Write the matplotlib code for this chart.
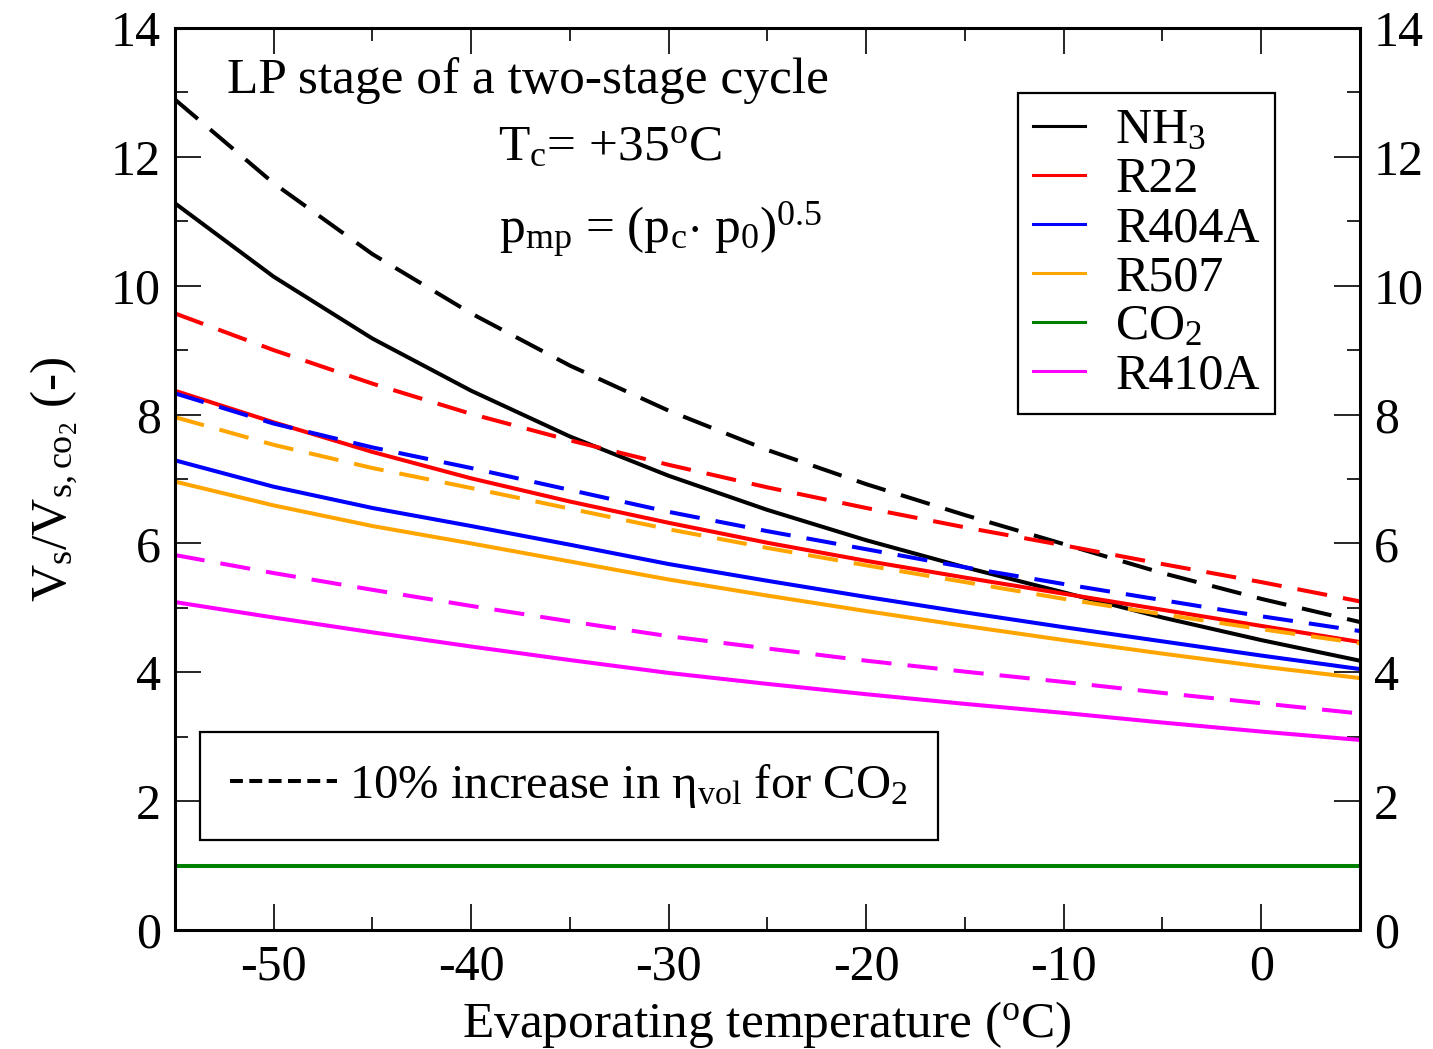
import matplotlib
matplotlib.use('Agg')
from matplotlib import pyplot as plt
from matplotlib.lines import Line2D
from matplotlib.ticker import MultipleLocator

plt.rcParams['font.family'] = ['Liberation Serif', 'DejaVu Serif']
plt.rcParams['mathtext.fontset'] = 'custom'
plt.rcParams['mathtext.rm'] = 'Liberation Serif'
plt.rcParams['mathtext.it'] = 'Liberation Serif'
plt.rcParams['axes.unicode_minus'] = False

# evaporating temperature (oC)
t_evap = [-55, -50, -45, -40, -35, -30, -25, -20, -15, -10, -5, 0, 5]

# swept volume ratio, solid lines
nh3 = [11.28, 10.14, 9.18, 8.37, 7.66, 7.05, 6.52, 6.05, 5.63, 5.24, 4.85, 4.50, 4.18]
r22 = [8.37, 7.88, 7.42, 7.01, 6.65, 6.32, 6.01, 5.73, 5.47, 5.22, 4.97, 4.72, 4.47]
r404a = [7.29, 6.88, 6.55, 6.27, 5.98, 5.68, 5.42, 5.17, 4.93, 4.70, 4.48, 4.26, 4.05]
r507 = [6.96, 6.59, 6.27, 6.00, 5.72, 5.44, 5.19, 4.95, 4.72, 4.50, 4.29, 4.09, 3.91]
co2 = [1.0] * 13
r410a = [5.09, 4.85, 4.62, 4.40, 4.19, 3.99, 3.82, 3.66, 3.51, 3.37, 3.22, 3.08, 2.95]

# 10% increase in volumetric efficiency for CO2, dashed lines
nh3_d = [12.89, 11.59, 10.49, 9.57, 8.76, 8.06, 7.45, 6.92, 6.44, 5.99, 5.54, 5.14, 4.78]
r22_d = [9.57, 9.00, 8.48, 8.01, 7.60, 7.22, 6.87, 6.55, 6.25, 5.97, 5.68, 5.40, 5.10]
r404a_d = [8.33, 7.86, 7.49, 7.17, 6.83, 6.49, 6.19, 5.91, 5.63, 5.37, 5.12, 4.87, 4.64]
r507_d = [7.96, 7.53, 7.17, 6.86, 6.54, 6.22, 5.93, 5.66, 5.40, 5.14, 4.90, 4.67, 4.45]
r410a_d = [5.82, 5.54, 5.28, 5.03, 4.79, 4.56, 4.37, 4.18, 4.01, 3.85, 3.68, 3.52, 3.36]

labels = ['NH$_3$', 'R22', 'R404A', 'R507', 'CO$_2$', 'R410A']
colors = ['black', 'red', 'blue', 'orange', 'green', 'magenta']
solid = [nh3, r22, r404a, r507, co2, r410a]
dashed = [nh3_d, r22_d, r404a_d, r507_d, None, r410a_d]

fig = plt.figure(figsize=(14.33, 10.49), dpi=100)
ax = fig.add_axes([0.122, 0.1134, 0.827, 0.86])

lines = []
for y, yd, c, lab in zip(solid, dashed, colors, labels):
    ln, = ax.plot(t_evap, y, color=c, lw=2.9, label=lab)
    lines.append(ln)
    if yd is not None:
        ld, = ax.plot(t_evap, yd, color=c, lw=2.9)
        ld.set_dashes((7.5, 4))

ax.set_xlim(-55, 5)
ax.set_ylim(0, 14)
ax.xaxis.set_major_locator(MultipleLocator(10))
ax.xaxis.set_minor_locator(MultipleLocator(5))
ax.yaxis.set_major_locator(MultipleLocator(2))
ax.yaxis.set_minor_locator(MultipleLocator(1))
ax.tick_params(which='both', direction='in', top=True, right=True,
               labelright=True, width=1.2, labelsize=36)
ax.tick_params(which='major', length=19, pad=10)
ax.tick_params(which='minor', length=9.5)
for s in ax.spines.values():
    s.set_linewidth(2.2)

ax.set_xlabel('Evaporating temperature ($^\\mathrm{o}$C)', fontsize=37, labelpad=6)
ax.set_ylabel('V$_\\mathrm{s}$/V$_\\mathrm{s,co_2}$ (-)', fontsize=37, labelpad=22)

ax.text(0.298, 0.942, 'LP stage of a two-stage cycle', transform=ax.transAxes,
        ha='center', va='center', fontsize=37)
ax.text(0.367, 0.867, 'T$_\\mathrm{c}$= +35$^\\mathrm{o}$C', transform=ax.transAxes,
        ha='center', va='center', fontsize=37)
ax.text(0.41, 0.775, 'p$_\\mathrm{mp}$ = (p$_\\mathrm{c}$$\\cdot$ p$_0$)$^{0.5}$',
        transform=ax.transAxes, ha='center', va='center', fontsize=37)

leg1 = ax.legend(handles=lines, loc='upper right', bbox_to_anchor=(0.928, 0.928),
                 borderaxespad=0, fontsize=36, handlelength=1.05, handletextpad=0.6,
                 labelspacing=0.05, borderpad=0.3, fancybox=False, framealpha=1,
                 edgecolor='black')
leg1.get_frame().set_linewidth(1.6)
for h in leg1.get_lines():
    h.set_linewidth(2.2)
ax.add_artist(leg1)

dash_handle = Line2D([], [], color='black', lw=2.9, dashes=(3.2, 1.6))
leg2 = ax.legend(handles=[dash_handle], labels=['10% increase in $\\eta_\\mathrm{vol}$ for CO$_2$'],
                 loc='lower left', bbox_to_anchor=(0.021, 0.0998), borderaxespad=0,
                 fontsize=35, handlelength=2.2, handletextpad=0.25, borderpad=0.62,
                 fancybox=False, framealpha=1, edgecolor='black')
leg2.get_frame().set_linewidth(1.6)

plt.savefig('out.png', dpi=100)
